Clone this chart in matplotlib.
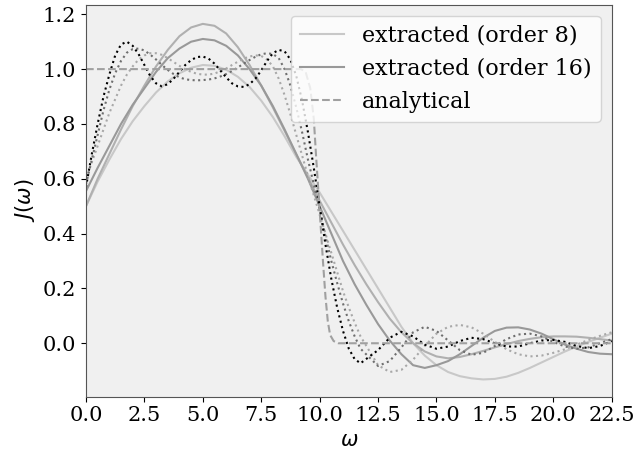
import matplotlib
matplotlib.use("Agg")
import matplotlib.pyplot as plt

# solid, lowest order first
w_grid = [i * 0.5 for i in range(46)]
j_order8 = [0.50, 0.59, 0.67, 0.745, 0.81, 0.865, 0.915, 0.955, 0.985, 1.005,
            1.015, 1.012, 0.998, 0.972, 0.935, 0.885, 0.825, 0.755, 0.68, 0.615,
            0.55, 0.48, 0.41, 0.34, 0.27, 0.20, 0.13, 0.06, 0.0, -0.045,
            -0.08, -0.105, -0.12, -0.128, -0.132, -0.13, -0.122, -0.108, -0.09, -0.07,
            -0.05, -0.03, -0.012, 0.005, 0.02, 0.035]
j_order12 = [0.50, 0.60, 0.69, 0.78, 0.865, 0.94, 1.01, 1.07, 1.12, 1.152,
             1.165, 1.158, 1.13, 1.08, 1.015, 0.94, 0.86, 0.775, 0.69, 0.605,
             0.52, 0.44, 0.36, 0.285, 0.215, 0.15, 0.09, 0.04, 0.0, -0.03,
             -0.048, -0.055, -0.05, -0.04, -0.028, -0.015, -0.003, 0.008, 0.016, 0.022,
             0.025, 0.025, 0.024, 0.02, 0.015, 0.01]
j_order16 = [0.555, 0.64, 0.72, 0.80, 0.87, 0.93, 0.99, 1.04, 1.075, 1.10,
             1.11, 1.105, 1.085, 1.05, 1.0, 0.94, 0.865, 0.78, 0.69, 0.60,
             0.50, 0.40, 0.30, 0.215, 0.14, 0.07, 0.01, -0.04, -0.08, -0.09,
             -0.08, -0.065, -0.04, -0.01, 0.02, 0.045, 0.057, 0.058, 0.05, 0.035,
             0.015, -0.005, -0.02, -0.032, -0.038, -0.04]

# dotted, higher orders
w_fine = [i * 0.25 for i in range(48)] + [12.5 + i * 0.5 for i in range(21)]
j_order24 = [0.60, 0.66, 0.72, 0.78, 0.84, 0.89, 0.94, 0.98, 1.01, 1.035,
             1.05, 1.058, 1.058, 1.052, 1.04, 1.026, 1.012, 0.999, 0.99, 0.983,
             0.98, 0.98, 0.984, 0.992, 1.002, 1.015, 1.027, 1.038, 1.046, 1.05,
             1.048, 1.035, 1.01, 0.965, 0.905, 0.835, 0.76, 0.685, 0.61, 0.54,
             0.47, 0.40, 0.33, 0.26, 0.19, 0.13, 0.075, 0.025,
             -0.08, -0.105, -0.097, -0.06, -0.01, 0.035, 0.06, 0.067, 0.058, 0.035,
             0.005, -0.022, -0.04, -0.048, -0.045, -0.035, -0.022, -0.005, 0.012, 0.027,
             0.04]
j_order32 = [0.58, 0.67, 0.76, 0.85, 0.925, 0.985, 1.03, 1.06, 1.073, 1.075,
             1.068, 1.053, 1.035, 1.015, 0.997, 0.982, 0.97, 0.963, 0.96, 0.959,
             0.96, 0.962, 0.966, 0.973, 0.982, 0.993, 1.006, 1.02, 1.033, 1.045,
             1.054, 1.058, 1.055, 1.04, 1.0, 0.94, 0.86, 0.77, 0.67, 0.58,
             0.49, 0.39, 0.30, 0.22, 0.145, 0.08, 0.025, -0.02,
             -0.083, -0.065, -0.015, 0.04, 0.06, 0.045, 0.01, -0.025, -0.042, -0.035,
             -0.01, 0.015, 0.032, 0.035, 0.025, 0.005, -0.012, -0.02, -0.015, 0.0,
             0.015]
j_order48 = [0.57, 0.69, 0.80, 0.90, 0.98, 1.05, 1.09, 1.10, 1.085, 1.055,
             1.015, 0.975, 0.948, 0.937, 0.945, 0.965, 0.99, 1.015, 1.033, 1.044,
             1.046, 1.038, 1.02, 0.995, 0.97, 0.948, 0.937, 0.935, 0.945, 0.965,
             0.995, 1.03, 1.058, 1.07, 1.065, 1.035, 0.975, 0.885, 0.77, 0.64,
             0.50, 0.36, 0.235, 0.13, 0.045, -0.02, -0.058, -0.073,
             -0.025, 0.02, 0.042, 0.025, -0.005, -0.02, -0.012, 0.008, 0.02, 0.015,
             0.0, -0.012, -0.012, 0.0, 0.01, 0.012, 0.005, -0.01, -0.018, -0.01,
             0.008]

w_exact = [0.0, 9.2, 9.4, 9.6, 9.75, 9.85, 9.95, 10.05, 10.15, 10.25, 10.35, 10.45,
           10.6, 10.8, 22.5]
j_exact = [1.0, 1.0, 0.99, 0.93, 0.82, 0.68, 0.55, 0.42, 0.29, 0.17, 0.08, 0.03,
           0.008, 0.0, 0.0]

plt.rcParams["font.family"] = "DejaVu Serif"
plt.rcParams["mathtext.fontset"] = "dejavusans"
plt.rcParams["font.size"] = 15

fig = plt.figure(figsize=(6.35, 4.55), dpi=100)
ax = fig.add_axes([0.1354, 0.1281, 0.8279, 0.8616])
ax.set_facecolor("#f0f0f0")

ax.plot(w_grid, j_order8, color="#c8c8c8", lw=1.5, label="extracted (order 8)")
ax.plot(w_grid, j_order12, color="#b0b0b0", lw=1.5)
ax.plot(w_grid, j_order16, color="#999999", lw=1.5, label="extracted (order 16)")
ax.plot(w_fine, j_order24, color="#a8a8a8", lw=1.5, ls=":")
ax.plot(w_fine, j_order32, color="#6e6e6e", lw=1.5, ls=":")
ax.plot(w_fine, j_order48, color="black", lw=1.5, ls=":")
ax.plot(w_exact, j_exact, color="#a0a0a0", lw=1.5, ls="--", label="analytical")

ax.set_xlim(0, 22.5)
ax.set_ylim(-0.195, 1.235)
ax.set_xticks([0, 2.5, 5, 7.5, 10, 12.5, 15, 17.5, 20, 22.5])
ax.set_yticks([0.0, 0.2, 0.4, 0.6, 0.8, 1.0, 1.2])
ax.set_xlabel(r"$\omega$")
ax.set_ylabel(r"$J(\omega)$")
for s in ax.spines.values():
    s.set_color("#555555")
ax.legend(loc="upper right", framealpha=0.8, fontsize=16)

fig.savefig("out.png", dpi=100)
